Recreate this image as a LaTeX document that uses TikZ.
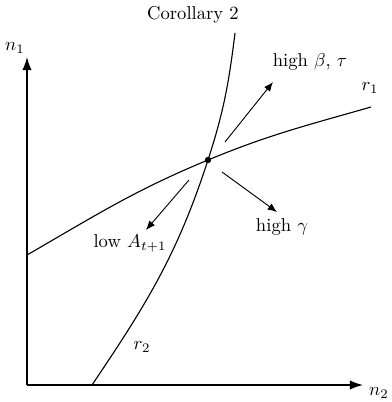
\documentclass[tikz,border=0pt]{standalone}
\usetikzlibrary{arrows.meta,positioning}
\begin{document}
\begin{tikzpicture}[x=0.5376pt, y=0.5376pt,
  axis/.style={line width=0.8pt, -{Latex[length=7pt,width=5pt]}},
  curve/.style={line width=0.6pt},
  shiftarrow/.style={line width=0.5pt, -{Latex[length=5pt,width=4pt]}}]
\useasboundingbox (0,0) rectangle (392,402);
% axes
\coordinate (O) at (27,17);
\coordinate (ytop) at (27,345);
\coordinate (xend) at (363,17);
\draw[axis] (O) -- (ytop);
\draw[axis] (O) -- (xend);
\node (n1) at (15,354) {$n_1$};
\node (n2) at (379,9) {$n_2$};
\node (title) at (193,387) {Corollary 2};
% reaction curves
\coordinate (eq) at (208,242);
\coordinate (r1start) at (27,147);
\coordinate (r1end) at (371,295);
\coordinate (r2start) at (92,17);
\coordinate (r2end) at (235,369);
\draw[curve] (r1start) to[out=30,in=202.5] (eq) to[out=22.5,in=196] (r1end);
\draw[curve] (r2start) to[out=56,in=252] (eq) to[out=72,in=263] (r2end);
\fill (eq) circle (3.2);
\node (r1) at (370,314) {$r_1$};
\node (r2) at (142,55) {$r_2$};
% comparative statics
\coordinate (bt0) at (225,260);
\coordinate (bt1) at (273,320);
\coordinate (la0) at (189,222);
\coordinate (la1) at (146,172);
\coordinate (hg0) at (222,230);
\coordinate (hg1) at (277,190);
\draw[shiftarrow] (bt0) -- (bt1);
\draw[shiftarrow] (la0) -- (la1);
\draw[shiftarrow] (hg0) -- (hg1);
\node (bt) at (310,340) {high $\beta$, $\tau$};
\node (la) at (130,159) {low $A_{t+1}$};
\node (hg) at (282,175) {high $\gamma$};
\end{tikzpicture}
\end{document}
